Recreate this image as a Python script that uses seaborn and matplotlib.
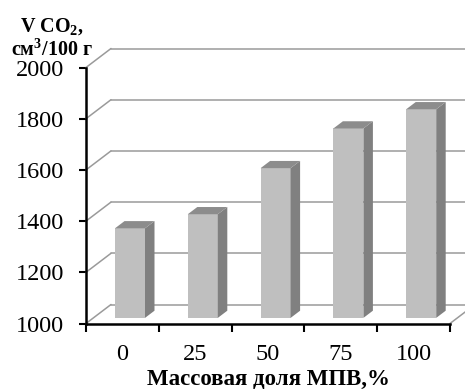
import numpy as np
import pandas as pd
import matplotlib
matplotlib.use("Agg")
import matplotlib.pyplot as plt
import seaborn as sns
from matplotlib.patches import Polygon

# ---- data ----
categories = ["0", "25", "50", "75", "100"]
co2_volume = [1350, 1405, 1585, 1740, 1815]
y_ticks = [1000, 1200, 1400, 1600, 1800, 2000]
x_title = "Массовая доля МПВ,%"
y_title_lines = ["V CO$_\\mathregular{2}$,", "см$^\\mathregular{3}$/100 г"]

# ---- style ----
sns.set_theme(style="white")
plt.rcParams['font.family'] = ['Liberation Serif', 'DejaVu Serif']

W, H = 465, 390
L, R, B, T = 86, 450, 323.5, 67.5          # front frame in image pixels
fig = plt.figure(figsize=(W / 100, H / 100), dpi=100)
ax = fig.add_axes([L / W, 1 - B / H, (R - L) / W, (B - T) / H])

y0, y1 = y_ticks[0], y_ticks[-1]
n = len(categories)
px_x = (R - L) / n                 # pixels per category
px_y = (B - T) / (y1 - y0)         # pixels per value unit

def to_data(dx_px, dy_px):
    return dx_px / px_x, dy_px / px_y

DEPTH = to_data(25, 19)            # back wall offset
BAR_SHIFT = to_data(7.6, 5.6)      # bar front face offset into depth
BAR_DEPTH = to_data(9.5, 7.2)      # bar thickness

df = pd.DataFrame({"cat": categories, "v": co2_volume})
sns.barplot(data=df, x="cat", y="v", order=categories, color="#BFBFBF",
            saturation=1, width=30 / px_x, ax=ax, zorder=3, linewidth=0)

ax.set_xlim(-0.5, n - 0.5)
ax.set_ylim(y0, y1)

grid_kw = dict(color="#9a9a9a", lw=1.1, clip_on=False, zorder=1)
xl, xr = -0.5, n - 0.5
for v in y_ticks:
    ax.plot([xl, xl + DEPTH[0]], [v, v + DEPTH[1]], **grid_kw)
    ax.plot([xl + DEPTH[0], xr + DEPTH[0]], [v + DEPTH[1], v + DEPTH[1]], **grid_kw)
ax.plot([xr, xr + DEPTH[0]], [y0, y0 + DEPTH[1]], **grid_kw)

for p in list(ax.patches):
    h = p.get_height()
    x0 = p.get_x() + BAR_SHIFT[0]
    w = p.get_width()
    yb = y0 + BAR_SHIFT[1]
    yt = h + BAR_SHIFT[1]
    p.set_x(x0)
    p.set_y(yb)
    p.set_height(yt - yb)
    x1 = x0 + w
    bx, by = BAR_DEPTH
    side = Polygon([(x1, yb), (x1 + bx, yb + by), (x1 + bx, yt + by), (x1, yt)],
                   closed=True, facecolor="#808080", edgecolor="none",
                   zorder=3, clip_on=False)
    top = Polygon([(x0, yt), (x1, yt), (x1 + bx, yt + by), (x0 + bx, yt + by)],
                  closed=True, facecolor="#8c8c8c", edgecolor="none",
                  zorder=3, clip_on=False)
    ax.add_patch(side)
    ax.add_patch(top)

sns.despine(ax=ax)
for s in ("left", "bottom"):
    ax.spines[s].set_color("black")
    ax.spines[s].set_linewidth(1.8)
    ax.spines[s].set_zorder(5)

ax.set_yticks(y_ticks)
ax.set_yticklabels([str(v) for v in y_ticks])
ax.tick_params(axis="y", direction="out", length=5, width=1.5, color="black",
               labelsize=17.5, pad=11, left=True, labelcolor="black")
ax.set_xticks(range(n))
ax.set_xticklabels(categories)
ax.set_xticks(np.arange(-0.5, n, 1), minor=True)
ax.tick_params(axis="x", which="major", length=0, labelsize=17.5, pad=15,
               labelcolor="black")
ax.tick_params(axis="x", which="minor", direction="out", length=6, width=1.5,
               color="black", bottom=True)
ax.set_xlabel("")
ax.set_ylabel("")

fig.text(268 / W, 1 - 384.5 / H, x_title, ha="center", va="baseline",
         fontsize=16.5, fontweight="bold", color="black")
for line, base in zip(y_title_lines, (31.5, 55.5)):
    fig.text(52 / W, 1 - base / H, line, ha="center", va="baseline",
             fontsize=14.5, fontweight="bold", color="black")

fig.savefig("out.png", dpi=100)
